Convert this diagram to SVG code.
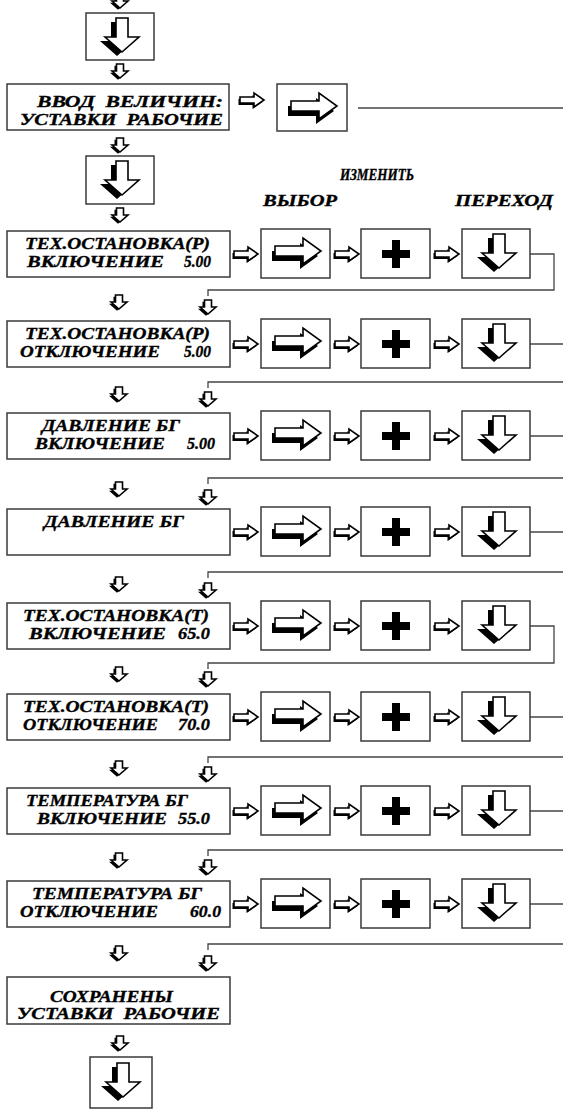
<svg xmlns="http://www.w3.org/2000/svg" xmlns:xlink="http://www.w3.org/1999/xlink" width="563" height="1113" viewBox="0 0 563 1113">
<style>
.bx{fill:#fff;stroke:#3a3a3a;stroke-width:1.5}
.t{font-family:"Liberation Serif","Times New Roman",serif;font-weight:bold;font-style:italic;font-size:16px;fill:#000;stroke:#000;stroke-width:0.35;white-space:pre}
.ln{fill:none;stroke:#444;stroke-width:1.3}
.ol{fill:#fff;stroke:#000;stroke-width:1.6;stroke-linejoin:miter}
.sh{fill:#000}
</style>
<defs>
<g id="sd">
<path class="sh" transform="translate(-2,1.8)" d="M-3.5,0 H3.5 V7 H8 L0,14 L-8,7 H-3.5 Z"/>
<path class="ol" d="M-3.5,0 H3.5 V7 H8 L0,14 L-8,7 H-3.5 Z"/>
</g>
<g id="sr">
<path class="sh" transform="translate(-1.5,2)" d="M-12,-3 H2 V-7 L12,0 L2,7 V3 H-12 Z"/>
<path class="ol" d="M-12,-3 H2 V-7 L12,0 L2,7 V3 H-12 Z"/>
</g>
<g id="bd">
<path class="sh" transform="translate(-5,4)" d="M-6,0 H6 V19 H17 L0,34 L-17,19 H-6 Z"/>
<path class="ol" d="M-6,0 H6 V19 H17 L0,34 L-17,19 H-6 Z"/>
</g>
<g id="br">
<path class="sh" transform="translate(-3,5)" d="M-22,-5 H6 V-13 L24,0 L6,13 V5 H-22 Z"/>
<path class="ol" d="M-22,-5 H6 V-13 L24,0 L6,13 V5 H-22 Z"/>
</g>
<g id="pl">
<rect x="-14" y="-4" width="28" height="8" fill="#000"/>
<rect x="-4" y="-14" width="8" height="28" fill="#000"/>
</g>
</defs>

<g id="connectors">
<path class="ln" d="M358,108 H563"/>
<path class="ln" d="M530,254 H554 V290 H208 V296"/>
<path class="ln" d="M530,344 H563"/>
<path class="ln" d="M563,382 H208 V388"/>
<path class="ln" d="M530,436 H563"/>
<path class="ln" d="M563,478 H208 V484"/>
<path class="ln" d="M530,532 H563"/>
<path class="ln" d="M563,572 H208 V578"/>
<path class="ln" d="M530,626 H554 V663 H208 V669"/>
<path class="ln" d="M530,717 H563"/>
<path class="ln" d="M563,757 H208 V763"/>
<path class="ln" d="M530,811 H563"/>
<path class="ln" d="M563,850 H208 V856"/>
<path class="ln" d="M530,904 H563"/>
<path class="ln" d="M563,944 H208 V950"/>

<use xlink:href="#sd" x="120" y="-6"/>
<use xlink:href="#sd" x="120" y="64"/>
<use xlink:href="#sd" x="120" y="138"/>
<use xlink:href="#sd" x="120" y="208"/>
<use xlink:href="#sr" x="252" y="100"/>

<use xlink:href="#sd" x="119" y="295"/>
<use xlink:href="#sd" x="208" y="300"/>
<use xlink:href="#sd" x="119" y="387"/>
<use xlink:href="#sd" x="208" y="392"/>
<use xlink:href="#sd" x="119" y="482"/>
<use xlink:href="#sd" x="208" y="490"/>
<use xlink:href="#sd" x="119" y="577"/>
<use xlink:href="#sd" x="208" y="583"/>
<use xlink:href="#sd" x="119" y="667"/>
<use xlink:href="#sd" x="208" y="672"/>
<use xlink:href="#sd" x="119" y="761"/>
<use xlink:href="#sd" x="208" y="767"/>
<use xlink:href="#sd" x="119" y="853"/>
<use xlink:href="#sd" x="208" y="860"/>
<use xlink:href="#sd" x="119" y="946"/>
<use xlink:href="#sd" x="208" y="956"/>
<use xlink:href="#sd" x="120" y="1036"/>
</g>

<g id="n-top">
<rect class="bx" x="86" y="13" width="68" height="47"/>
<use xlink:href="#bd" x="122" y="18"/>
</g>

<g id="n-vvod">
<rect class="bx" x="7" y="84" width="222" height="46"/>
<text class="t" x="37" y="107" textLength="186" lengthAdjust="spacingAndGlyphs">ВВОД  ВЕЛИЧИН:</text>
<text class="t" x="20" y="125" textLength="203" lengthAdjust="spacingAndGlyphs">УСТАВКИ  РАБОЧИЕ</text>
</g>

<g id="n-vvod-btn">
<rect class="bx" x="277" y="84" width="70" height="47"/>
<use xlink:href="#br" x="313" y="106"/>
</g>

<g id="n-down2">
<rect class="bx" x="86" y="156" width="68" height="48"/>
<use xlink:href="#bd" x="122" y="161"/>
</g>

<g id="labels">
<text class="t" x="340" y="180" textLength="74" lengthAdjust="spacingAndGlyphs">ИЗМЕНИТЬ</text>
<text class="t" x="263" y="206" textLength="74" lengthAdjust="spacingAndGlyphs">ВЫБОР</text>
<text class="t" x="455" y="206" textLength="98" lengthAdjust="spacingAndGlyphs">ПЕРЕХОД</text>
</g>

<g id="row1">
<rect class="bx" x="7" y="231" width="223" height="46"/>
<text class="t" x="25" y="249" textLength="185" lengthAdjust="spacingAndGlyphs">ТЕХ.ОСТАНОВКА(Р)</text>
<text class="t" x="27" y="267" textLength="137" lengthAdjust="spacingAndGlyphs">ВКЛЮЧЕНИЕ</text>
<text class="t" x="184" y="267" textLength="27" lengthAdjust="spacingAndGlyphs">5.00</text>
<use xlink:href="#sr" x="246" y="254"/>
<rect class="bx" x="261" y="229" width="69" height="49"/>
<use xlink:href="#br" x="297" y="251"/>
<use xlink:href="#sr" x="347" y="254"/>
<rect class="bx" x="361" y="229" width="69" height="49"/>
<use xlink:href="#pl" x="396" y="254"/>
<use xlink:href="#sr" x="447" y="254"/>
<rect class="bx" x="462" y="229" width="68" height="49"/>
<use xlink:href="#bd" x="499" y="234"/>
</g>

<g id="row2">
<rect class="bx" x="7" y="321" width="223" height="46"/>
<text class="t" x="25" y="339" textLength="185" lengthAdjust="spacingAndGlyphs">ТЕХ.ОСТАНОВКА(Р)</text>
<text class="t" x="20" y="357" textLength="140" lengthAdjust="spacingAndGlyphs">ОТКЛЮЧЕНИЕ</text>
<text class="t" x="184" y="357" textLength="27" lengthAdjust="spacingAndGlyphs">5.00</text>
<use xlink:href="#sr" x="246" y="344"/>
<rect class="bx" x="261" y="319" width="69" height="49"/>
<use xlink:href="#br" x="297" y="341"/>
<use xlink:href="#sr" x="347" y="344"/>
<rect class="bx" x="361" y="319" width="69" height="49"/>
<use xlink:href="#pl" x="396" y="344"/>
<use xlink:href="#sr" x="447" y="344"/>
<rect class="bx" x="462" y="319" width="68" height="49"/>
<use xlink:href="#bd" x="499" y="324"/>
</g>

<g id="row3">
<rect class="bx" x="7" y="413" width="223" height="46"/>
<text class="t" x="42" y="431" textLength="138" lengthAdjust="spacingAndGlyphs">ДАВЛЕНИЕ БГ</text>
<text class="t" x="35" y="449" textLength="130" lengthAdjust="spacingAndGlyphs">ВКЛЮЧЕНИЕ</text>
<text class="t" x="187" y="449" textLength="28" lengthAdjust="spacingAndGlyphs">5.00</text>
<use xlink:href="#sr" x="246" y="436"/>
<rect class="bx" x="261" y="411" width="69" height="49"/>
<use xlink:href="#br" x="297" y="433"/>
<use xlink:href="#sr" x="347" y="436"/>
<rect class="bx" x="361" y="411" width="69" height="49"/>
<use xlink:href="#pl" x="396" y="436"/>
<use xlink:href="#sr" x="447" y="436"/>
<rect class="bx" x="462" y="411" width="68" height="49"/>
<use xlink:href="#bd" x="499" y="416"/>
</g>

<g id="row4">
<rect class="bx" x="7" y="509" width="223" height="46"/>
<text class="t" x="44" y="527" textLength="140" lengthAdjust="spacingAndGlyphs">ДАВЛЕНИЕ БГ</text>
<use xlink:href="#sr" x="246" y="532"/>
<rect class="bx" x="261" y="507" width="69" height="49"/>
<use xlink:href="#br" x="297" y="529"/>
<use xlink:href="#sr" x="347" y="532"/>
<rect class="bx" x="361" y="507" width="69" height="49"/>
<use xlink:href="#pl" x="396" y="532"/>
<use xlink:href="#sr" x="447" y="532"/>
<rect class="bx" x="462" y="507" width="68" height="49"/>
<use xlink:href="#bd" x="499" y="512"/>
</g>

<g id="row5">
<rect class="bx" x="7" y="603" width="223" height="46"/>
<text class="t" x="23" y="621" textLength="186" lengthAdjust="spacingAndGlyphs">ТЕХ.ОСТАНОВКА(Т)</text>
<text class="t" x="29" y="639" textLength="137" lengthAdjust="spacingAndGlyphs">ВКЛЮЧЕНИЕ</text>
<text class="t" x="178" y="639" textLength="32" lengthAdjust="spacingAndGlyphs">65.0</text>
<use xlink:href="#sr" x="246" y="626"/>
<rect class="bx" x="261" y="601" width="69" height="49"/>
<use xlink:href="#br" x="297" y="623"/>
<use xlink:href="#sr" x="347" y="626"/>
<rect class="bx" x="361" y="601" width="69" height="49"/>
<use xlink:href="#pl" x="396" y="626"/>
<use xlink:href="#sr" x="447" y="626"/>
<rect class="bx" x="462" y="601" width="68" height="49"/>
<use xlink:href="#bd" x="499" y="606"/>
</g>

<g id="row6">
<rect class="bx" x="7" y="694" width="223" height="46"/>
<text class="t" x="23" y="712" textLength="186" lengthAdjust="spacingAndGlyphs">ТЕХ.ОСТАНОВКА(Т)</text>
<text class="t" x="23" y="730" textLength="135" lengthAdjust="spacingAndGlyphs">ОТКЛЮЧЕНИЕ</text>
<text class="t" x="178" y="730" textLength="32" lengthAdjust="spacingAndGlyphs">70.0</text>
<use xlink:href="#sr" x="246" y="717"/>
<rect class="bx" x="261" y="692" width="69" height="49"/>
<use xlink:href="#br" x="297" y="714"/>
<use xlink:href="#sr" x="347" y="717"/>
<rect class="bx" x="361" y="692" width="69" height="49"/>
<use xlink:href="#pl" x="396" y="717"/>
<use xlink:href="#sr" x="447" y="717"/>
<rect class="bx" x="462" y="692" width="68" height="49"/>
<use xlink:href="#bd" x="499" y="697"/>
</g>

<g id="row7">
<rect class="bx" x="7" y="788" width="223" height="46"/>
<text class="t" x="26" y="806" textLength="162" lengthAdjust="spacingAndGlyphs">ТЕМПЕРАТУРА БГ</text>
<text class="t" x="37" y="824" textLength="130" lengthAdjust="spacingAndGlyphs">ВКЛЮЧЕНИЕ</text>
<text class="t" x="178" y="824" textLength="32" lengthAdjust="spacingAndGlyphs">55.0</text>
<use xlink:href="#sr" x="246" y="811"/>
<rect class="bx" x="261" y="786" width="69" height="49"/>
<use xlink:href="#br" x="297" y="808"/>
<use xlink:href="#sr" x="347" y="811"/>
<rect class="bx" x="361" y="786" width="69" height="49"/>
<use xlink:href="#pl" x="396" y="811"/>
<use xlink:href="#sr" x="447" y="811"/>
<rect class="bx" x="462" y="786" width="68" height="49"/>
<use xlink:href="#bd" x="499" y="791"/>
</g>

<g id="row8">
<rect class="bx" x="7" y="881" width="223" height="46"/>
<text class="t" x="32" y="899" textLength="170" lengthAdjust="spacingAndGlyphs">ТЕМПЕРАТУРА БГ</text>
<text class="t" x="20" y="917" textLength="138" lengthAdjust="spacingAndGlyphs">ОТКЛЮЧЕНИЕ</text>
<text class="t" x="190" y="917" textLength="31" lengthAdjust="spacingAndGlyphs">60.0</text>
<use xlink:href="#sr" x="246" y="904"/>
<rect class="bx" x="261" y="879" width="69" height="49"/>
<use xlink:href="#br" x="297" y="901"/>
<use xlink:href="#sr" x="347" y="904"/>
<rect class="bx" x="361" y="879" width="69" height="49"/>
<use xlink:href="#pl" x="396" y="904"/>
<use xlink:href="#sr" x="447" y="904"/>
<rect class="bx" x="462" y="879" width="68" height="49"/>
<use xlink:href="#bd" x="499" y="884"/>
</g>

<g id="n-saved">
<rect class="bx" x="7" y="977" width="223" height="47"/>
<text class="t" x="50" y="1002" textLength="123" lengthAdjust="spacingAndGlyphs">СОХРАНЕНЫ</text>
<text class="t" x="17" y="1019" textLength="203" lengthAdjust="spacingAndGlyphs">УСТАВКИ  РАБОЧИЕ</text>
</g>

<g id="n-end">
<rect class="bx" x="90" y="1057" width="62" height="51"/>
<use xlink:href="#bd" x="123" y="1063"/>
</g>
</svg>
